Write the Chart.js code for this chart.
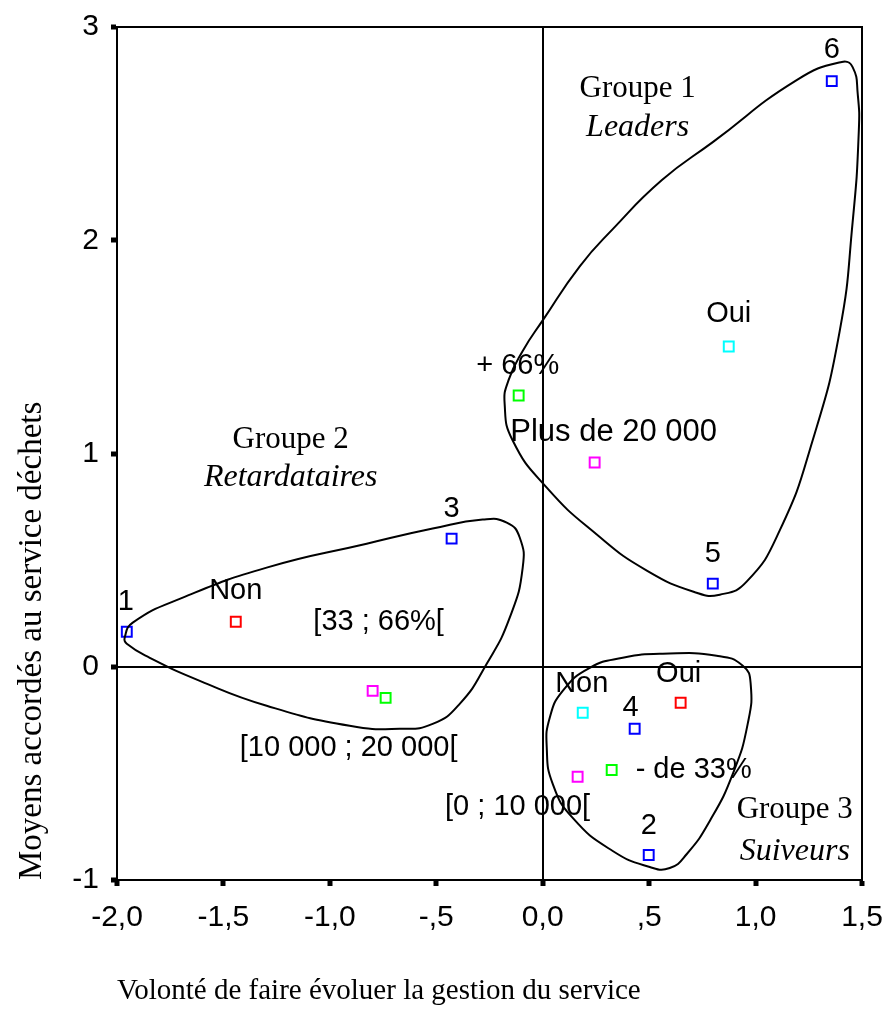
<!DOCTYPE html>
<html>
<head>
<meta charset="utf-8">
<script src="https://cdn.jsdelivr.net/npm/chart.js@4.4.1/dist/chart.umd.min.js"></script>
<style>
  html, body { margin: 0; padding: 0; background: #fff; }
</style>
</head>
<body>
<canvas id="myChart" width="890" height="1017"></canvas>
<script>
const xTicks = [-2, -1.5, -1, -0.5, 0, 0.5, 1, 1.5]
const xTickLabels = ['-2,0', '-1,5', '-1,0', '-,5', '0,0', ',5', '1,0', '1,5']
const yTicks = [-1, 0, 1, 2, 3]
const yTickLabels = ['-1', '0', '1', '2', '3']

// catégories numérotées (bleu)
const numLabels = ['1', '2', '3', '4', '5', '6']
const numX = [-1.954, 0.498, -0.428, 0.432, 0.799, 1.358]
const numY = [0.164, -0.883, 0.601, -0.291, 0.390, 2.746]

// Oui / Non (rouge)
const rougeLabels = ['Oui', 'Non']
const rougeX = [0.648, -1.442]
const rougeY = [-0.169, 0.211]

// Oui / Non (cyan)
const cyanLabels = ['Oui', 'Non']
const cyanX = [0.874, 0.188]
const cyanY = [1.502, -0.216]

// pourcentages (vert)
const pctLabels = ['+ 66%', '[33 ; 66%[', '- de 33%']
const pctX = [-0.113, -0.738, 0.324]
const pctY = [1.272, -0.146, -0.484]

// population (magenta)
const popLabels = ['Plus de 20 000', '[10 000 ; 20 000[', '[0 ; 10 000[']
const popX = [0.244, -0.799, 0.164]
const popY = [0.958, -0.113, -0.516]

// contours des groupes
const group1X = [1.405, 1.456, 1.480, 1.485, 1.456, 1.395, 1.268, 1.113, 0.958, 0.832, 0.723, 0.489, 0.254, 0.019, -0.141, -0.179, -0.160, -0.094, 0.000, 0.174, 0.329, 0.560, 0.799, 1.193]
const group1Y = [2.836, 2.812, 2.685, 2.512, 2.085, 1.573, 1.061, 0.638, 0.399, 0.338, 0.347, 0.451, 0.620, 0.840, 1.061, 1.235, 1.345, 1.481, 1.624, 1.878, 2.052, 2.282, 2.460, 2.751]
const group2X = [-1.964, -1.926, -1.691, -1.297, -0.827, -0.517, -0.282, -0.169, -0.108, -0.094, -0.155, -0.263, -0.390, -0.517, -0.672, -0.907, -1.297, -1.611, -1.846, -1.954]
const group2Y = [0.136, 0.207, 0.324, 0.465, 0.577, 0.648, 0.690, 0.676, 0.606, 0.465, 0.230, 0.014, -0.174, -0.268, -0.291, -0.277, -0.183, -0.066, 0.042, 0.108]
const group3X = [0.564, 0.817, 0.940, 0.977, 0.963, 0.893, 0.785, 0.677, 0.597, 0.503, 0.329, 0.141, 0.047, 0.019, 0.033, 0.094, 0.221, 0.376]
const group3Y = [0.061, 0.052, 0.005, -0.080, -0.268, -0.502, -0.723, -0.878, -0.944, -0.939, -0.864, -0.709, -0.549, -0.380, -0.239, -0.113, -0.005, 0.042]

// noms des groupes
const groupNames = ['Groupe 1', 'Groupe 2', 'Groupe 3']
const groupTypes = ['Leaders', 'Retardataires', 'Suiveurs']
const groupNameX = [0.446, -1.184, 1.184]
const groupNameY = [2.709, 1.066, -0.671]
const groupTypeY = [2.526, 0.887, -0.869]

// décalage des étiquettes en pixels
const numOffsets = [[-1, -30], [0, -29], [0, -30], [-4, -21], [0, -30], [0, -31]]
const rougeOffsets = [[-2, -29], [0, -31]]
const cyanOffsets = [[0, -32], [-1, -29]]
const pctOffsets = [[-1, -29], [-7, -76], [82, 0]]
const popOffsets = [[19, -30], [-24, 57], [-60, 30]]

const SANS = "'Liberation Sans', Arial, sans-serif"
const SERIF = "'Liberation Serif', 'Times New Roman', serif"

function toPoints(xs, ys) {
    return xs.map((x, i) => ({ x: x, y: ys[i] }))
}

// boucle fermée : on ajoute un point de chaque côté et on masque les segments en trop
function outline(xs, ys) {
    const pts = toPoints(xs, ys)
    const n = pts.length
    const data = [pts[n - 1]].concat(pts, [pts[0], pts[1]])
    const last = data.length - 1
    return {
        data: data,
        showLine: true,
        tension: 0.5,
        pointRadius: 0,
        borderColor: '#000',
        borderWidth: 2,
        fill: false,
        segment: {
            borderColor: c => (c.p0DataIndex === 0 || c.p1DataIndex === last) ? 'rgba(0,0,0,0)' : undefined
        }
    }
}

function markers(xs, ys, color, labels, offsets) {
    return {
        data: toPoints(xs, ys),
        pointStyle: 'rect',
        pointRadius: 7,
        pointBorderWidth: 2,
        pointBorderColor: color,
        pointBackgroundColor: 'rgba(0,0,0,0)',
        showLine: false,
        labels: labels,
        labelOffsets: offsets
    }
}

const pointLabels = {
    id: 'pointLabels',
    afterDatasetsDraw(chart) {
        const ctx = chart.ctx
        ctx.save()
        ctx.fillStyle = '#000'
        ctx.textAlign = 'center'
        ctx.textBaseline = 'middle'
        chart.data.datasets.forEach((ds, di) => {
            if (!ds.labels) return
            const meta = chart.getDatasetMeta(di)
            meta.data.forEach((el, i) => {
                const off = ds.labelOffsets[i]
                const txt = ds.labels[i]
                // "Plus de 20 000" est un peu plus large dans l'original
                ctx.font = (txt.indexOf('Plus') === 0 ? '31px ' : '29px ') + SANS
                ctx.fillText(txt, el.x + off[0], el.y + off[1])
            })
        })
        // noms des groupes
        const sx = chart.scales.x, sy = chart.scales.y
        for (let i = 0; i < groupNames.length; i++) {
            const px = sx.getPixelForValue(groupNameX[i])
            ctx.font = '31px ' + SERIF
            ctx.fillText(groupNames[i], px, sy.getPixelForValue(groupNameY[i]))
            ctx.font = 'italic 32px ' + SERIF
            ctx.fillText(groupTypes[i], px, sy.getPixelForValue(groupTypeY[i]))
        }
        ctx.restore()
    }
}

const frame = {
    id: 'frame',
    beforeDatasetsDraw(chart) {
        const a = chart.chartArea
        const ctx = chart.ctx
        ctx.save()
        ctx.strokeStyle = '#000'
        ctx.lineWidth = 2
        ctx.beginPath()
        ctx.moveTo(a.left, a.top)
        ctx.lineTo(a.right, a.top)
        ctx.lineTo(a.right, a.bottom)
        ctx.stroke()
        ctx.restore()
    }
}

const zeroLine = c => (c.tick && c.tick.value === 0) ? '#000' : 'rgba(0,0,0,0)'

const ctx = document.getElementById('myChart')
new Chart(ctx, {
    type: 'scatter',
    data: {
        datasets: [
            outline(group1X, group1Y),
            outline(group2X, group2Y),
            outline(group3X, group3Y),
            markers(numX, numY, '#0000ff', numLabels, numOffsets),
            markers(rougeX, rougeY, '#ff0000', rougeLabels, rougeOffsets),
            markers(cyanX, cyanY, '#00ffff', cyanLabels, cyanOffsets),
            markers(pctX, pctY, '#00ff00', pctLabels, pctOffsets),
            markers(popX, popY, '#ff00ff', popLabels, popOffsets)
        ]
    },
    options: {
        responsive: false,
        animation: false,
        devicePixelRatio: 1,
        layout: { padding: { top: 27, right: 28, left: 0, bottom: 0 } },
        plugins: { legend: { display: false }, tooltip: { enabled: false } },
        scales: {
            x: {
                type: 'linear',
                min: -2,
                max: 1.5,
                afterBuildTicks: s => { s.ticks = xTicks.map(v => ({ value: v })) },
                afterFit: s => { s.height = 137; s.paddingLeft = 0; s.paddingRight = 0 },
                ticks: {
                    color: '#000',
                    font: { family: SANS, size: 30 },
                    padding: 14,
                    maxRotation: 0,
                    callback: v => xTickLabels[xTicks.indexOf(v)]
                },
                grid: { color: zeroLine, lineWidth: 2, tickColor: '#000', tickLength: 6, tickWidth: 5 },
                border: { display: true, color: '#000', width: 2 },
                title: {
                    display: true,
                    text: 'Volonté de faire évoluer la gestion du service',
                    align: 'start',
                    color: '#000',
                    font: { family: SERIF, size: 29 },
                    padding: { top: 0, bottom: 8 }
                }
            },
            y: {
                type: 'linear',
                min: -1,
                max: 3,
                afterBuildTicks: s => { s.ticks = yTicks.map(v => ({ value: v })) },
                afterFit: s => { s.width = 117; s.paddingTop = 0; s.paddingBottom = 0 },
                ticks: {
                    color: '#000',
                    font: { family: SANS, size: 30 },
                    padding: 12,
                    callback: v => yTickLabels[yTicks.indexOf(v)]
                },
                grid: { color: zeroLine, lineWidth: 2, tickColor: '#000', tickLength: 6, tickWidth: 5 },
                border: { display: true, color: '#000', width: 2 },
                title: {
                    display: true,
                    text: 'Moyens accordés au service déchets',
                    align: 'start',
                    color: '#000',
                    font: { family: SERIF, size: 33 },
                    padding: { top: 13, bottom: 0 }
                }
            }
        }
    },
    plugins: [frame, pointLabels]
})
</script>
</body>
</html>
